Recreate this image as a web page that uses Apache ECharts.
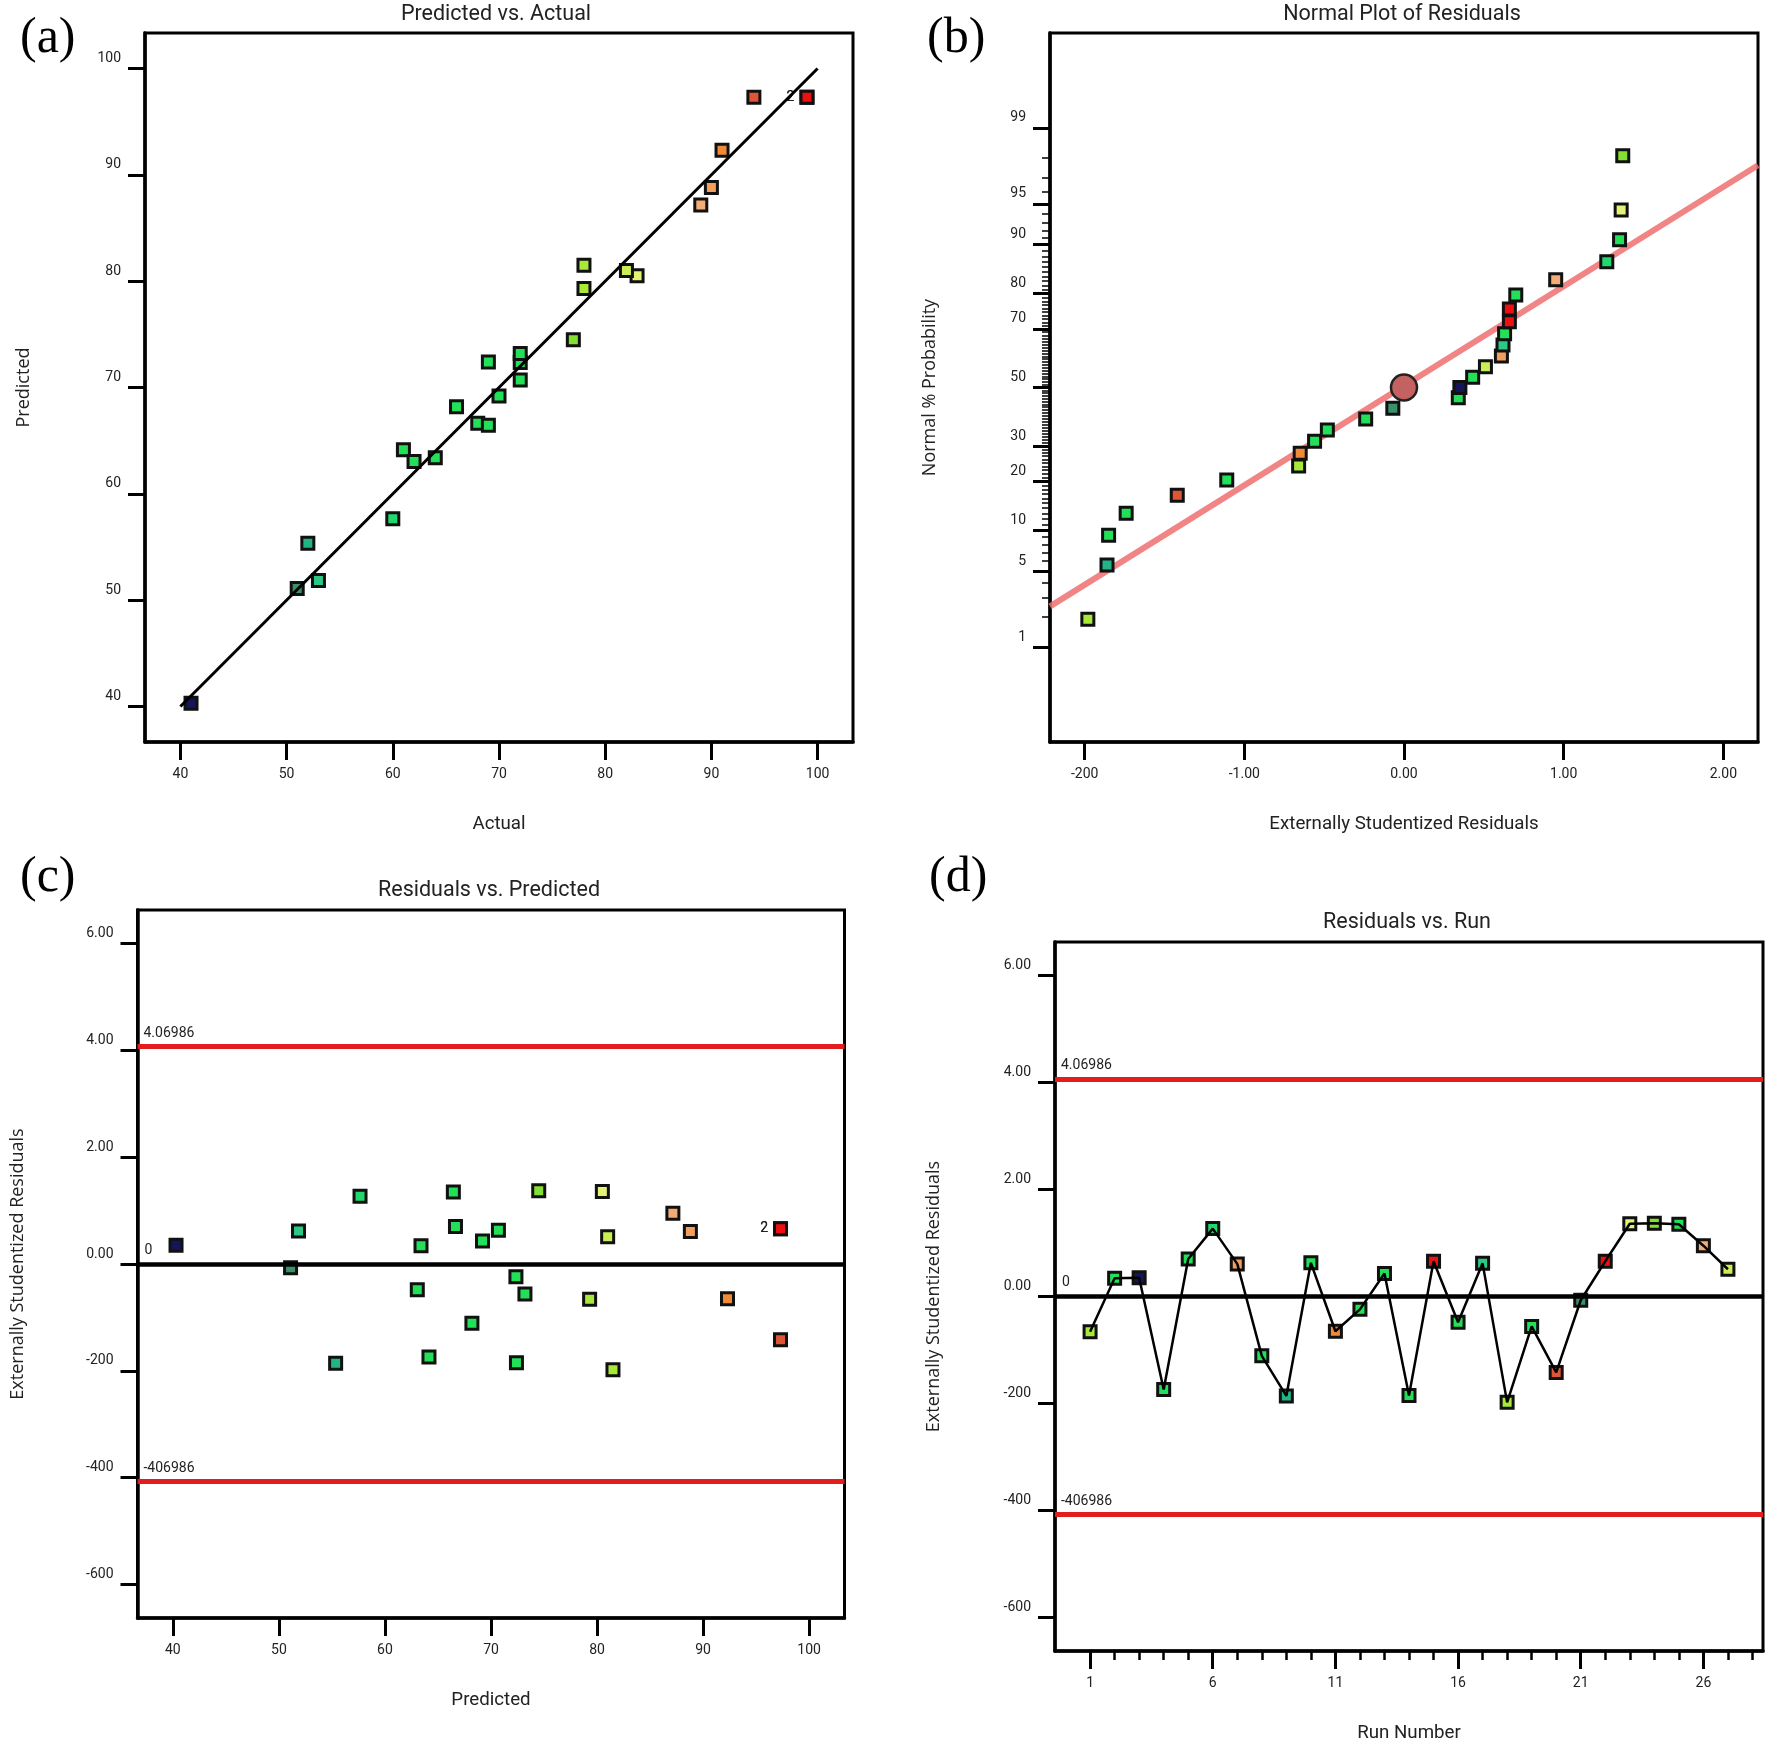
<!DOCTYPE html>
<html>
<head>
<meta charset="utf-8">
<script src="https://cdn.jsdelivr.net/npm/echarts@6/dist/echarts.min.js"></script>
<style>html,body{margin:0;padding:0;background:#fff}#chart{width:1776px;height:1758px}</style>
</head>
<body>
<div id="chart"></div>
<script>
// ---------------- DATA ----------------
const runNumber = [1,2,3,4,5,6,7,8,9,10,11,12,13,14,15,16,17,18,19,20,21,22,23,24,25,26,27];
const actual    = [78,64,41,61,68,60,90,66,52,72,91,72,70,69,99,62,53,78,72,94,51,99,83,77,69,89,82];
const predicted = [79.3,63.4,40.3,64.15,66.65,57.65,88.8,68.2,55.35,70.7,92.3,72.35,69.2,72.4,97.3,63.05,51.85,81.5,73.2,97.3,51.1,97.3,80.5,74.5,66.45,87.15,81.0];
const residuals = [-0.66,0.34,0.35,-1.74,0.70,1.27,0.61,-1.11,-1.86,0.63,-0.65,-0.24,0.43,-1.85,0.66,-0.48,0.62,-1.98,-0.56,-1.42,-0.07,0.66,1.36,1.37,1.35,0.95,0.51];
// normal % probability of the ranked residuals (panel b)
const normalProb = [1.9,5.6,9.3,13.0,16.7,20.4,24.1,27.8,31.5,35.2,38.9,42.6,46.3,50.0,53.7,57.4,61.1,64.8,68.5,72.2,75.9,79.6,83.3,87.0,90.7,94.4,98.1];
// reference lines
const fitLine = [40, 100];                 // Predicted = Actual
const normLineResid = [-2.217, 2.217];
const normLineProb  = [2.5, 97.67];
const centerPoint = [0.00, 50];
const limitValues = [4.06986, -4.06986];
const limitLabels = ['4.06986', '-406986'];
const zeroLabel = '0';
// ticks
const aTicks = [40,50,60,70,80,90,100];
const bXTicks = [-2,-1,0,1,2];
const bXTickLabels = ['-200','-1.00','0.00','1.00','2.00'];
const bYTicks = [1,5,10,20,30,50,70,80,90,95,99];
const bYMinorTicks = Array.from({length:99},(_,i)=>i+1);
const resTicks = [-6,-4,-2,0,2,4,6];
const resTickLabels = ['-600','-400','-200','0.00','2.00','4.00','6.00'];
const runTicks = [1,6,11,16,21,26];
const runMinorTicks = [1,2,3,4,5,6,7,8,9,10,11,12,13,14,15,16,17,18,19,20,21,22,23,24,25,26,27,28];

// ---------------- helpers ----------------
function invNorm(p){
  const a=[-3.969683028665376e+01,2.209460984245205e+02,-2.759285104469687e+02,1.383577518672690e+02,-3.066479806614716e+01,2.506628277459239e+00];
  const b=[-5.447609879822406e+01,1.615858368580409e+02,-1.556989798598866e+02,6.680131188771972e+01,-1.328068155288572e+01];
  const c=[-7.784894002430293e-03,-3.223964580411365e-01,-2.400758277161838e+00,-2.549732539343734e+00,4.374664141464968e+00,2.938163982698783e+00];
  const d=[7.784695709041462e-03,3.224671290700398e-01,2.445134137142996e+00,3.754408661907416e+00];
  const pl=0.02425, ph=1-pl; let q,r;
  if(p<pl){q=Math.sqrt(-2*Math.log(p));return (((((c[0]*q+c[1])*q+c[2])*q+c[3])*q+c[4])*q+c[5])/((((d[0]*q+d[1])*q+d[2])*q+d[3])*q+1);}
  if(p<=ph){q=p-0.5;r=q*q;return (((((a[0]*r+a[1])*r+a[2])*r+a[3])*r+a[4])*r+a[5])*q/(((((b[0]*r+b[1])*r+b[2])*r+b[3])*r+b[4])*r+1);}
  q=Math.sqrt(-2*Math.log(1-p));return -(((((c[0]*q+c[1])*q+c[2])*q+c[3])*q+c[4])*q+c[5])/((((d[0]*q+d[1])*q+d[2])*q+d[3])*q+1);
}
const pz = v => invNorm(v/100);
const bYZ = bYTicks.map(pz);
const bYMinorZ = bYMinorTicks.map(pz);

const TXT = '#222';
const LBL = 14;
function withDupLabels(points){
  const cnt = {};
  points.forEach(p => { const k = p[0]+','+p[1]; cnt[k] = (cnt[k]||0)+1; });
  return points.map(p => {
    const k = p[0]+','+p[1];
    if (cnt[k] > 1) return {value:p, label:{show:true, position:'left', distance:5, formatter:String(cnt[k]), color:TXT, fontSize:LBL, fontFamily:'Roboto'}};
    return {value:p};
  });
}

function vAxis(o){
  const ax = {
    type:'value', gridIndex:o.grid, min:o.min, max:o.max, position:o.position,
    splitLine:{show:false},
    axisLine:{show:o.line!==false, onZero:false, lineStyle:{color:'#000', width:3.5}},
    axisTick:{show:true, inside:false, length:o.tickLen||17, customValues:o.ticks, lineStyle:{color:'#000', width:o.tickWidth||3}},
    axisLabel:{show:o.labels!==false, customValues:o.ticks, formatter:o.fmt, color:TXT, fontSize:LBL, fontFamily:'Roboto', margin:o.margin||24},
    name:o.name||'', nameLocation:'middle', nameGap:o.nameGap||0,
    nameTextStyle:o.nameStyle||{}
  };
  if (o.vertical) { ax.axisLabel.verticalAlign = 'bottom'; ax.axisLabel.padding = [0,0,3,0]; }
  return ax;
}
const xNameStyle = {fontSize:18.7, fontFamily:'Roboto', color:TXT};
const yNameStyle = {fontSize:18, fontFamily:'Open Sans', color:TXT};
const idxFmt = (ticks, labels) => v => { let bi=0, bd=1e9; ticks.forEach((t,i)=>{const d=Math.abs(t-v); if(d<bd){bd=d;bi=i;}}); return labels[bi]; };

const A_MIN = 36.667, A_MAX = 103.333;
const R_MIN = -6.63, R_MAX = 6.63;

const grids = [
  {left:145, top:33, width:708, height:709},
  {left:1050, top:33, width:708, height:709},
  {left:137.5, top:910, width:707, height:708},
  {left:1055, top:942, width:708, height:709}
].map(g => Object.assign(g, {show:true, borderColor:'#000', borderWidth:3, backgroundColor:'#fff', containLabel:false, outerBoundsMode:'none'}));

const xAxes = [
  vAxis({grid:0, position:'bottom', min:A_MIN, max:A_MAX, ticks:aTicks, fmt:v=>String(v), margin:25, tickLen:18, name:'Actual', nameGap:73, nameStyle:xNameStyle}),
  vAxis({grid:1, position:'bottom', min:-2.217, max:2.217, ticks:bXTicks, fmt:idxFmt(bXTicks,bXTickLabels), margin:25, tickLen:18, name:'Externally Studentized Residuals', nameGap:73, nameStyle:xNameStyle}),
  vAxis({grid:2, position:'bottom', min:A_MIN, max:A_MAX, ticks:aTicks, fmt:v=>String(v), margin:25, tickLen:18, name:'Predicted', nameGap:73, nameStyle:xNameStyle}),
  vAxis({grid:3, position:'bottom', min:-0.43, max:28.43, ticks:runTicks, fmt:v=>String(v), margin:25, tickLen:18, name:'Run Number', nameGap:73, nameStyle:xNameStyle}),
  vAxis({grid:3, position:'bottom', min:-0.43, max:28.43, ticks:runMinorTicks, labels:false, line:false, tickLen:9, tickWidth:2.5})
];
const yAxes = [
  vAxis({grid:0, position:'left', min:A_MIN, max:A_MAX, ticks:aTicks, fmt:v=>String(v), vertical:true, name:'Predicted', nameGap:112, nameStyle:yNameStyle}),
  vAxis({grid:1, position:'left', min:-3.175, max:3.175, ticks:bYZ, fmt:idxFmt(bYZ, bYTicks.map(String)), vertical:true, name:'Normal % Probability', nameGap:111, nameStyle:yNameStyle}),
  vAxis({grid:1, position:'left', min:-3.175, max:3.175, ticks:bYMinorZ, labels:false, line:false, tickLen:8, tickWidth:1.5}),
  vAxis({grid:2, position:'left', min:R_MIN, max:R_MAX, ticks:resTicks, fmt:idxFmt(resTicks,resTickLabels), vertical:true, name:'Externally Studentized Residuals', nameGap:111, nameStyle:yNameStyle}),
  vAxis({grid:3, position:'left', min:R_MIN, max:R_MAX, ticks:resTicks, fmt:idxFmt(resTicks,resTickLabels), vertical:true, name:'Externally Studentized Residuals', nameGap:112, nameStyle:yNameStyle})
];

// panel data
const aPoints = runNumber.map((r,i) => [actual[i], predicted[i], actual[i]]);
const order = runNumber.map((r,i)=>i).sort((p,q)=> residuals[p]-residuals[q] || p-q);
const bPoints = order.map((idx,k) => [residuals[idx], pz(normalProb[k]), actual[idx]]);
const cPoints = runNumber.map((r,i) => [predicted[i], residuals[i], actual[i]]);
const dPoints = runNumber.map((r,i) => [r, residuals[i], actual[i]]);

const markerStyle = {borderColor:'#111', borderWidth:3, opacity:1};
function limitMarks(){
  return {
    silent:true, symbol:['none','none'], animation:false,
    data: limitValues.map((v,i)=>({yAxis:v, lineStyle:{color:'#e11d1d', width:5, type:'solid', opacity:1},
            label:{show:true, position:'insideStartTop', formatter:limitLabels[i], color:TXT, fontSize:LBL, fontFamily:'Roboto', distance:6}}))
          .concat([{yAxis:0, lineStyle:{color:'#000', width:4.5, type:'solid', opacity:1},
            label:{show:true, position:'insideStartTop', formatter:zeroLabel, color:TXT, fontSize:LBL, fontFamily:'Roboto', distance:7}}])
  };
}

const option = {
  animation:false,
  backgroundColor:'#fff',
  title:[
    {text:'Predicted vs. Actual', left:496, top:4},
    {text:'Normal Plot of Residuals', left:1402, top:4},
    {text:'Residuals vs. Predicted', left:489, top:880},
    {text:'Residuals vs. Run', left:1407, top:912}
  ].map(t => Object.assign(t, {textAlign:'center', padding:0, textStyle:{fontSize:21.5, fontWeight:'normal', fontFamily:'Roboto', color:TXT}})),
  graphic:[
    ['(a)', 20, 39], ['(b)', 927, 39], ['(c)', 20, 878], ['(d)', 929, 878]
  ].map(([t,x,y]) => ({type:'text', x:x, y:y, z:100, style:{text:t, fontSize:50, fontFamily:'Liberation Serif, Times New Roman, serif', fill:'#000', align:'left', verticalAlign:'middle'}})),
  grid:grids,
  xAxis:xAxes,
  yAxis:yAxes,
  visualMap:{
    type:'piecewise', show:false, seriesIndex:[0,3,5,6], dimension:2,
    pieces:[
      {lt:46, color:'#15155a'},
      {gte:46, lt:51.5, color:'#3a9068'},
      {gte:51.5, lt:52.5, color:'#22b486'},
      {gte:52.5, lt:56, color:'#2cc886'},
      {gte:56, lt:60.5, color:'#20d86e'},
      {gte:60.5, lt:75, color:'#22e058'},
      {gte:75, lt:77.5, color:'#84e030'},
      {gte:77.5, lt:80, color:'#a8e83a'},
      {gte:80, lt:82.5, color:'#caee55'},
      {gte:82.5, lt:86, color:'#e4f276'},
      {gte:86, lt:89.5, color:'#f3ac76'},
      {gte:89.5, lt:90.5, color:'#f39e5c'},
      {gte:90.5, lt:92.5, color:'#ef8a38'},
      {gte:92.5, lt:96, color:'#df5636'},
      {gte:96, color:'#ee1010'}
    ]
  },
  series:[
    {type:'scatter', xAxisIndex:0, yAxisIndex:0, symbol:'rect', symbolSize:12, itemStyle:markerStyle, data:withDupLabels(aPoints), z:2},
    {type:'line', xAxisIndex:0, yAxisIndex:0, data:fitLine.map(v=>[v,v]), showSymbol:false, symbol:'none', lineStyle:{color:'#000', width:3}, z:4, silent:true},
    {type:'line', xAxisIndex:1, yAxisIndex:1, data:normLineResid.map((x,i)=>[x, pz(normLineProb[i])]), symbol:'none', lineStyle:{color:'rgba(238,112,112,0.85)', width:6}, z:1, silent:true},
    {type:'scatter', xAxisIndex:1, yAxisIndex:1, symbol:'rect', symbolSize:12, itemStyle:markerStyle, data:bPoints, z:2},
    {type:'scatter', xAxisIndex:1, yAxisIndex:1, symbol:'circle', symbolSize:26, itemStyle:{color:'#c46262', borderColor:'#222', borderWidth:2.5, opacity:1}, data:[[centerPoint[0], pz(centerPoint[1])]], z:3},
    {type:'scatter', xAxisIndex:2, yAxisIndex:3, symbol:'rect', symbolSize:12, itemStyle:markerStyle, data:withDupLabels(cPoints), markLine:limitMarks(), z:2},
    {type:'scatter', xAxisIndex:3, yAxisIndex:4, symbol:'rect', symbolSize:12, itemStyle:markerStyle, data:dPoints, markLine:limitMarks(), z:2},
    {type:'line', xAxisIndex:3, yAxisIndex:4, data:dPoints.map(p=>[p[0],p[1]]), symbol:'none', lineStyle:{color:'#000', width:2.5}, z:4, silent:true}
  ]
};

const chart = echarts.init(document.getElementById('chart'), null, {renderer:'canvas'});
chart.setOption(option);
</script>
</body>
</html>
